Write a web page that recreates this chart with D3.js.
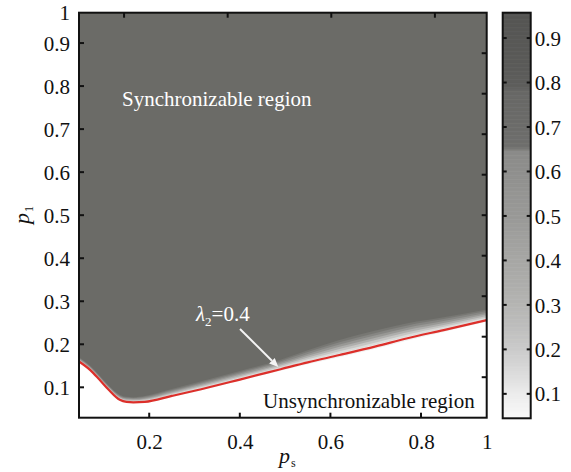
<!DOCTYPE html>
<html><head><meta charset="utf-8">
<script src="https://cdn.jsdelivr.net/npm/d3@7"></script>
</head>
<body style="margin:0">
<svg id="chart" width="571" height="472"></svg>
<script>
// ---- data ----
// lambda2 = 0.4 contour (boundary between regions)
const boundaryPs = [0.045,0.07,0.09,0.11,0.135,0.15,0.165,0.19,0.25,0.30,0.40,0.49,0.55,0.62,0.70,0.77,0.85,0.945];
const boundaryP1 = [0.160,0.140,0.118,0.095,0.071,0.066,0.065,0.066,0.080,0.092,0.118,0.142,0.158,0.175,0.195,0.214,0.233,0.256];
// thickness of the grey transition band above the contour (in p1 units)
const bandWidth  = [0.010,0.010,0.010,0.010,0.012,0.012,0.012,0.014,0.016,0.018,0.020,0.022,0.028,0.035,0.037,0.035,0.030,0.025];
// grey levels across the transition band (fraction of band -> colour)
const bandFractions = [-0.15,0.1,0.25,0.4,0.55,0.7,0.85,1.0];
const bandColors    = ["#f2f2f2","#dcdcda","#c6c6c4","#aeaeac","#989895","#868683","#777773","#6b6b67"];

const xTickValues = [0.2,0.4,0.6,0.8,0.945];
const xTickLabels = ["0.2","0.4","0.6","0.8","1"];
const yTickValues = [0.1,0.2,0.3,0.4,0.5,0.6,0.7,0.8,0.9,0.9705];
const yTickLabels = ["0.1","0.2","0.3","0.4","0.5","0.6","0.7","0.8","0.9","1"];
const topTickValues = [0.2,0.4,0.6,0.8];
const rightTickValues = [0.1,0.2,0.3,0.4,0.5,0.6,0.7,0.8,0.9];

const cbTickValues = [0.1,0.2,0.3,0.4,0.5,0.6,0.7,0.8,0.9];
const cbStopValues = [0.045,0.10,0.15,0.20,0.25,0.30,0.35,0.40,0.45,0.50,0.55,0.60,0.645,0.655,0.70,0.78,0.79,0.85,0.957];
const cbStopColors = ["#f9f9f9","#ececec","#dadada","#cbcbcb","#bebebd","#b5b5b3","#adadab","#a7a7a5","#a0a09e","#999997","#959593","#8f8f8d","#8b8b89","#6f6f6d","#6c6c6a","#686866","#5e5e5c","#5a5a58","#555553"];

const FONT = '"Liberation Serif"';

// ---- layout ----
const svg = d3.select("#chart");
const L = 79, R = 486.7, T = 12.7, B = 417.7;
const x = d3.scaleLinear().domain([0.045,0.945]).range([L,R]);
const y = d3.scaleLinear().domain([0.0294,0.9705]).range([B,T]);
const xTop = d3.scaleLinear().domain([0.113,0.9]).range([L,R]);
const yRight = d3.scaleLinear().domain([0,1]).range([B,T]);

const pts = boundaryPs.map((p,i)=>({ps:p,p1:boundaryP1[i],w:bandWidth[i]}));

const heat = svg.append("g");
heat.append("rect").attr("x",L).attr("y",T).attr("width",R-L).attr("height",B-T).attr("fill","#fff");
heat.selectAll("path.band").data(bandFractions).join("path").attr("class","band")
  .attr("d", fr => d3.area().curve(d3.curveMonotoneX)
      .x(d=>x(d.ps)).y0(d=>Math.min(B, y(d.p1 + fr*d.w))).y1(T)(pts))
  .attr("fill",(fr,i)=>bandColors[i]);

heat.append("path").datum(pts)
  .attr("d", d3.line().curve(d3.curveMonotoneX).x(d=>x(d.ps)).y(d=>y(d.p1)))
  .attr("fill","none").attr("stroke","#dc2f2a").attr("stroke-width",2.2);

// ---- axes ----
const axisG = svg.append("g");
const xAxis = d3.axisBottom(x).tickValues(xTickValues).tickFormat((d,i)=>xTickLabels[i]).tickSize(0).tickPadding(16);
const xa = axisG.append("g").attr("transform",`translate(0,${B})`).call(xAxis);
const yAxis = d3.axisLeft(y).tickValues(yTickValues).tickFormat((d,i)=>yTickLabels[i]).tickSize(0).tickPadding(9);
const ya = axisG.append("g").attr("transform",`translate(${L},0)`).call(yAxis);
[xa,ya].forEach(g=>{
  g.attr("font-family",null).attr("font-size",null);
  g.select(".domain").remove();
  g.selectAll("text").attr("font-size",21).attr("fill","#111").style("font-family",FONT);
});
ya.selectAll("text").attr("dy","0.34em");
xa.selectAll("text").attr("dy","0.72em");

const tickLen = 5;
axisG.selectAll(".tb").data(xTickValues.slice(0,4)).join("line")
  .attr("x1",d=>x(d)).attr("x2",d=>x(d)).attr("y1",B).attr("y2",B-tickLen);
axisG.selectAll(".tl").data(yTickValues.slice(0,9)).join("line").attr("class","tl")
  .attr("x1",L).attr("x2",L+tickLen).attr("y1",d=>y(d)).attr("y2",d=>y(d));
axisG.selectAll(".tt").data(topTickValues).join("line").attr("class","tt")
  .attr("x1",d=>xTop(d)).attr("x2",d=>xTop(d)).attr("y1",T).attr("y2",T+tickLen);
axisG.selectAll(".tr").data(rightTickValues).join("line").attr("class","tr")
  .attr("x1",R).attr("x2",R-tickLen).attr("y1",d=>yRight(d)).attr("y2",d=>yRight(d));
axisG.selectAll("line").attr("stroke","#111").attr("stroke-width",2);

svg.append("rect").attr("x",L).attr("y",T).attr("width",R-L).attr("height",B-T)
  .attr("fill","none").attr("stroke","#111").attr("stroke-width",2);

// ---- annotations ----
svg.append("text").attr("x",122).attr("y",106).attr("font-size",21).attr("fill","#fff")
  .style("font-family",FONT).text("Synchronizable region");
svg.append("text").attr("x",263).attr("y",408).attr("font-size",21).attr("fill","#111")
  .style("font-family",FONT).text("Unsynchronizable region");
const lam = svg.append("text").attr("x",196).attr("y",321).attr("font-size",21).attr("fill","#fff").style("font-family",FONT);
lam.append("tspan").attr("font-style","italic").text("λ");
lam.append("tspan").attr("font-size",13).attr("dy",5).text("2");
lam.append("tspan").attr("dy",-5).text("=0.4");

// arrow pointing at the contour
const a0 = [240,329], a1 = [x(0.485), y(0.147)];
const ang = Math.atan2(a1[1]-a0[1], a1[0]-a0[0]);
const hl = 9, hw = 4;
const base = [a1[0]-hl*Math.cos(ang), a1[1]-hl*Math.sin(ang)];
svg.append("line").attr("x1",a0[0]).attr("y1",a0[1]).attr("x2",base[0]).attr("y2",base[1])
  .attr("stroke","#f4f4f4").attr("stroke-width",2);
svg.append("path").attr("fill","#f4f4f4").attr("d", d3.line()([
  a1,
  [base[0]+hw*Math.sin(ang), base[1]-hw*Math.cos(ang)],
  [base[0]-hw*Math.sin(ang), base[1]+hw*Math.cos(ang)]
]) + "Z");

const xl = svg.append("text").attr("x",279).attr("y",463).attr("font-size",22).attr("fill","#111").style("font-family",FONT);
xl.append("tspan").attr("font-style","italic").text("p");
xl.append("tspan").attr("font-size",12).attr("dy",4).attr("dx",1).text("s");
const yl = svg.append("text").attr("transform","translate(29,224) rotate(-90)").attr("font-size",22).attr("fill","#111").style("font-family",FONT);
yl.append("tspan").attr("font-style","italic").text("p");
yl.append("tspan").attr("font-size",12).attr("dy",4).attr("dx",1).text("1");

// ---- colour bar ----
const cbL = 502.7, cbR = 530.7, cbT = 12.7, cbB = 418.3;
const cbY = d3.scaleLinear().domain([0.045,0.957]).range([cbB,cbT]);
const cbColor = d3.scaleLinear().domain(cbStopValues).range(cbStopColors);
const step = 0.003;
const cbVals = d3.range(cbStopValues[0], cbStopValues[cbStopValues.length-1], step);
svg.append("g").selectAll("rect").data(cbVals).join("rect")
  .attr("x",cbL).attr("width",cbR-cbL)
  .attr("y",d=>cbY(Math.min(d+step,0.957))-0.3).attr("height",d=>cbY(d)-cbY(Math.min(d+step,0.957))+0.6)
  .attr("fill",d=>cbColor(d+step/2));
const cbAxis = d3.axisRight(cbY).tickValues(cbTickValues).tickFormat(d3.format(".1f")).tickSize(0).tickPadding(4);
const cba = svg.append("g").attr("transform",`translate(${cbR},0)`).call(cbAxis);
cba.attr("font-family",null).attr("font-size",null);
cba.select(".domain").remove();
cba.selectAll("text").attr("font-size",21).attr("fill","#111").attr("dy","0.34em").style("font-family",FONT);
const cbTicks = svg.append("g");
cbTicks.selectAll(".a").data(cbTickValues).join("line").attr("class","a")
  .attr("x1",cbL).attr("x2",cbL+4).attr("y1",d=>cbY(d)).attr("y2",d=>cbY(d));
cbTicks.selectAll(".b").data(cbTickValues).join("line").attr("class","b")
  .attr("x1",cbR).attr("x2",cbR-4).attr("y1",d=>cbY(d)).attr("y2",d=>cbY(d));
cbTicks.selectAll("line").attr("stroke","#111").attr("stroke-width",2);
svg.append("rect").attr("x",cbL).attr("y",cbT).attr("width",cbR-cbL).attr("height",cbB-cbT)
  .attr("fill","none").attr("stroke","#111").attr("stroke-width",2);
</script>
</body></html>
